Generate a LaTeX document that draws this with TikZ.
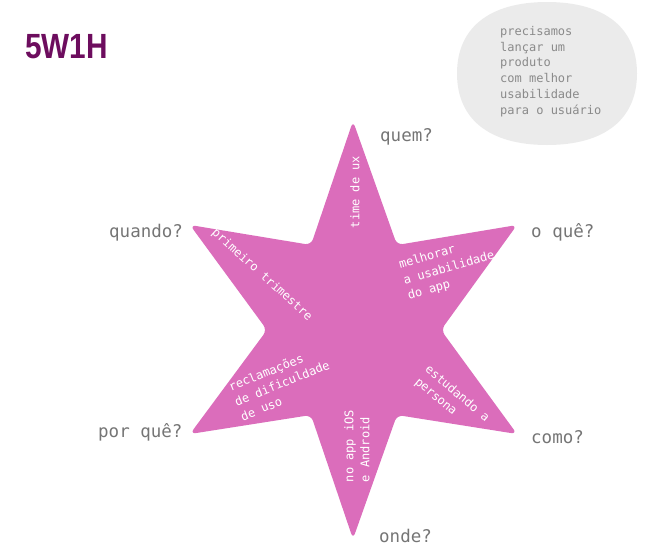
\documentclass[tikz,border=0pt]{standalone}
\usepackage{fontspec}
\setmainfont{Liberation Sans}
\setmonofont{DejaVu Sans Mono}
\definecolor{starpink}{HTML}{DB6DBB}
\definecolor{titlepurple}{HTML}{6D0D5E}
\definecolor{labelgray}{HTML}{757575}
\definecolor{boxgray}{HTML}{EBEBEB}
\definecolor{boxtext}{HTML}{8A8A8A}
\tikzset{
  qlabel/.style={anchor=base west, inner sep=0pt, text=labelgray, font=\ttfamily\fontsize{17.5}{20}\selectfont},
  startext/.style={inner sep=0pt, text=white, align=left, font=\ttfamily\fontsize{12}{16}\selectfont},
}
\begin{document}
\begin{tikzpicture}[x=1pt,y=-1pt]
\useasboundingbox (0,0) rectangle (651,555);
% title
\node[anchor=base west, inner sep=0pt, text=titlepurple, font=\bfseries\fontsize{35}{40}\selectfont] (title) at (25,58) {\scalebox{0.85}[1]{5W1H}};
% note box (superellipse-like)
\fill[boxgray]
  (547,2) .. controls (605,2) and (637,28) .. (637,73.5)
  .. controls (637,119) and (605,145) .. (547,145)
  .. controls (489,145) and (457,119) .. (457,73.5)
  .. controls (457,28) and (489,2) .. (547,2) -- cycle;
\node[anchor=north west, inner sep=0pt, text=boxtext, align=left, font=\ttfamily\fontsize{12}{15.8}\selectfont] (note) at (500,26)
  {precisamos\\lançar um\\produto\\com melhor\\usabilidade\\para o usuário};
% star
\fill[starpink, rounded corners=6pt]
  (353,121) -- (397,245) -- (517,225) -- (441,330) -- (517,434)
  -- (397,415) -- (353,539) -- (311,415) -- (190,434) -- (267,330)
  -- (190,225) -- (311,245) -- cycle;
% star texts
\node[startext, rotate=90] (who) at (355,192) {time de ux};
\node[startext, rotate=-42] (when) at (262,275) {primeiro trimestre};
\node[startext, rotate=16] (what) at (449,268) {melhorar\\a usabilidade\\do app};
\node[startext, rotate=22] (why) at (282,383) {reclamações\\de dificuldade\\de uso};
\node[startext, rotate=-40] (how) at (452,400) {estudando a\\persona};
\node[startext, rotate=90] (where) at (357,446) {no app iOS\\e Android};
% labels
\node[qlabel] (quem) at (380,141) {quem?};
\node[qlabel] (quando) at (109,237) {quando?};
\node[qlabel] (oque) at (531,237) {o quê?};
\node[qlabel] (porque) at (98,437) {por quê?};
\node[qlabel] (como) at (531,443) {como?};
\node[qlabel] (onde) at (379,542) {onde?};
\end{tikzpicture}
\end{document}
